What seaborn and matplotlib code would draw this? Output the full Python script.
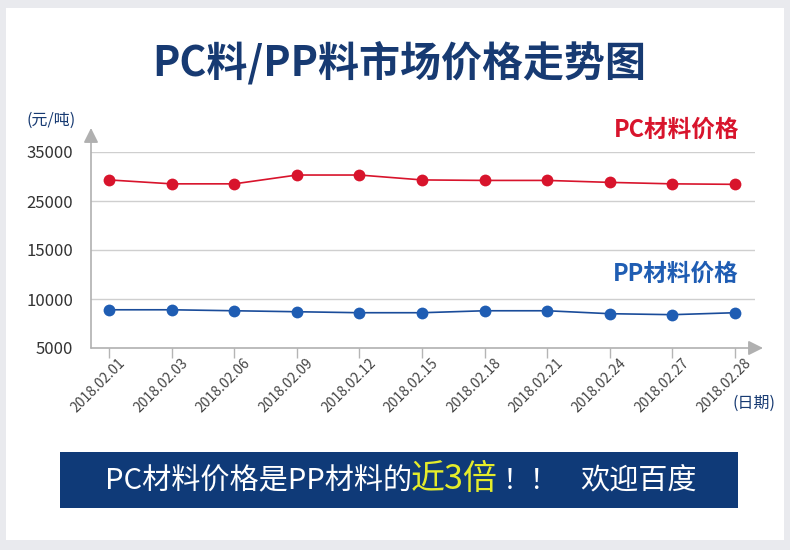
import numpy as np
import pandas as pd
import matplotlib
matplotlib.use("Agg")
import matplotlib.pyplot as plt
import seaborn as sns
from matplotlib.patches import Rectangle
from matplotlib.transforms import ScaledTranslation

# ---- data ----
dates = ["2018.02.01", "2018.02.03", "2018.02.06", "2018.02.09", "2018.02.12",
         "2018.02.15", "2018.02.18", "2018.02.21", "2018.02.24", "2018.02.27",
         "2018.02.28"]
pc_price = [29300, 28500, 28500, 30300, 30300, 29300, 29200, 29200, 28800, 28500, 28400]
pp_price = [8900, 8900, 8800, 8700, 8600, 8600, 8800, 8800, 8500, 8400, 8600]
y_ticks = [5000, 10000, 15000, 25000, 35000]
y_tick_labels = ["5000", "10000", "15000", "25000", "35000"]

sns.set_theme(style="white")
plt.rcParams["font.family"] = ["Noto Sans CJK SC", "DejaVu Sans"]

W, H = 790, 550
fig = plt.figure(figsize=(7.9, 5.5), dpi=100)
fig.patch.set_facecolor("#e9eaee")
fig.add_artist(Rectangle((6 / W, 1 - 540 / H), 778 / W, 532 / H,
                         transform=fig.transFigure, facecolor="white",
                         edgecolor="none", zorder=0))

def fx(px):
    return px / W

def fy(py):
    return 1 - py / H

ax_l, ax_r, ax_t, ax_b = 91, 755, 152, 348
ax = fig.add_axes([fx(ax_l), fy(ax_b), (ax_r - ax_l) / W, (ax_b - ax_t) / H])
ax.set_facecolor("none")

# piecewise (equal-spaced) value axis like the reference
idx = np.arange(len(y_ticks), dtype=float)
def fwd(v):
    return np.interp(v, y_ticks, idx)
def inv(i):
    return np.interp(i, idx, y_ticks)
ax.set_yscale("function", functions=(fwd, inv))

df = pd.DataFrame({"x": np.arange(len(dates)), "PC": pc_price, "PP": pp_price})
sns.lineplot(data=df, x="x", y="PC", ax=ax, color="#d8142c", lw=1.2,
             marker="o", markersize=8.5, markeredgewidth=0, zorder=3)
sns.lineplot(data=df, x="x", y="PP", ax=ax, color="#1a4c9a", lw=1.2,
             marker="o", markersize=8.5, markeredgewidth=0,
             markerfacecolor="#1f5db3", zorder=3)

ax.set_ylim(5000, 35000)
ax.set_xlim(-0.29, 10.32)
ax.set_yticks(y_ticks)
ax.set_yticklabels(y_tick_labels)
ax.set_xticks(df["x"])
ax.set_xticklabels(dates, rotation=45, ha="right", va="center",
                   rotation_mode="anchor")
ax.set_xlabel("")
ax.set_ylabel("")

for y in y_ticks[1:]:
    ax.axhline(y, color="#cfcfcf", lw=1, zorder=1)

for s in ax.spines.values():
    s.set_visible(False)

ax.tick_params(axis="y", length=0, pad=13, labelsize=12, labelcolor="#333333")
ax.tick_params(axis="x", length=7.5, width=1, color="#b5b5b5", pad=3,
               labelsize=10, labelcolor="#444444", bottom=True)
offset = ScaledTranslation(14 / 100, 2 / 100, fig.dpi_scale_trans)
for lab in ax.get_xticklabels():
    lab.set_transform(lab.get_transform() + offset)

# axis arrows
arrow_kw = dict(arrowstyle="-|>", color="#b0b0b0", lw=1.2, mutation_scale=22,
                shrinkA=0, shrinkB=0)
ax.annotate("", xy=(0, (ax_b - 128) / (ax_b - ax_t)), xytext=(0, 0),
            xycoords="axes fraction", textcoords="axes fraction",
            arrowprops=arrow_kw, annotation_clip=False)
ax.annotate("", xy=((763 - ax_l) / (ax_r - ax_l), 0), xytext=(0, 0),
            xycoords="axes fraction", textcoords="axes fraction",
            arrowprops=arrow_kw, annotation_clip=False)

navy = "#173a72"
fig.text(fx(399), fy(63), "PC料/PP料市场价格走势图", ha="center", va="center",
         fontsize=29.5, fontweight="bold", color=navy)
fig.text(fx(27), fy(120), "(元/吨)", ha="left", va="center", fontsize=11.5,
         color=navy)
fig.text(fx(739), fy(130), "PC材料价格", ha="right", va="center", fontsize=17,
         fontweight="bold", color="#d8142c")
fig.text(fx(739), fy(274), "PP材料价格", ha="right", va="center", fontsize=17,
         fontweight="bold", color="#1f5db3")
fig.text(fx(776), fy(403), "(日期)", ha="right", va="center", fontsize=11.5,
         color=navy)

# banner
fig.add_artist(Rectangle((fx(60), fy(508)), (738 - 60) / W, (508 - 452) / H,
                         transform=fig.transFigure, facecolor="#0f3a78",
                         edgecolor="none", zorder=1))
by = fy(481)
fig.text(fx(105), by, "PC材料价格是PP材料的", ha="left", va="center",
         fontsize=21, fontweight="medium", color="white", zorder=2)
fig.text(fx(411), fy(479), "近3倍", ha="left", va="center", fontsize=24.5,
         fontweight="medium", color="#e4ec2a", zorder=2)
fig.text(fx(503), by, "！！", ha="left", va="center", fontsize=20,
         fontweight="medium", color="white", zorder=2)
fig.text(fx(580), by, "欢迎百度", ha="left", va="center", fontsize=21,
         fontweight="medium", color="white", zorder=2)

fig.savefig("out.png", dpi=100, facecolor=fig.get_facecolor())
